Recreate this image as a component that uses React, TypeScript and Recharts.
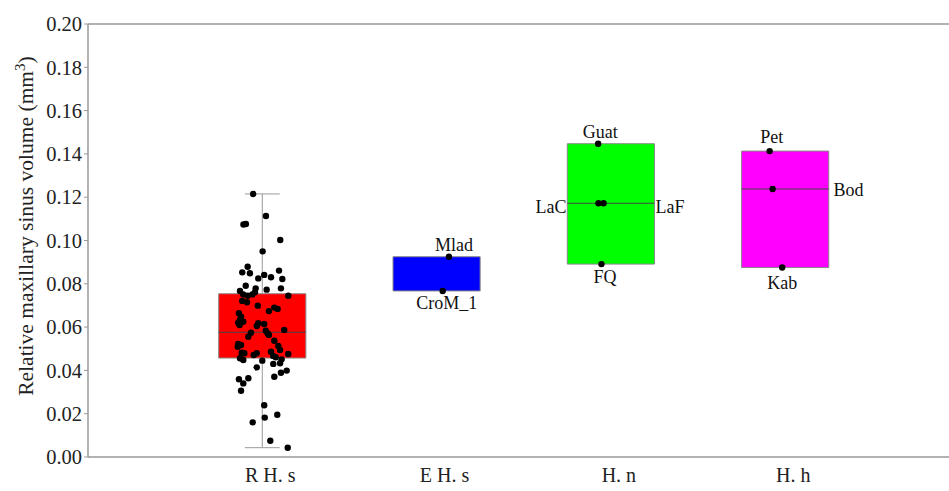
import React from 'react';
import { ComposedChart, Scatter, XAxis, YAxis, ReferenceArea, ReferenceLine } from 'recharts';

const categories = ['R H. s', 'E H. s', 'H. n', 'H. h'];
const categoryPositions = [1, 2, 3, 4];
const boxColors = ['#ff0000', '#0000ff', '#00ff00', '#ff00ff'];
const q1Values = [0.0457, 0.0767, 0.0891, 0.0875];
const medianValues: (number | null)[] = [0.0576, null, 0.1172, 0.1238];
const q3Values = [0.0754, 0.0925, 0.1447, 0.1413];
const whiskerLow: (number | null)[] = [0.0043, null, null, null];
const whiskerHigh: (number | null)[] = [0.1215, null, null, null];
const yTicks = [0, 0.02, 0.04, 0.06, 0.08, 0.1, 0.12, 0.14, 0.16, 0.18, 0.2];

const recentValues = [
  0.1215, 0.1113, 0.1074, 0.1076, 0.1002, 0.095, 0.0879, 0.0853, 0.0849, 0.0825,
  0.0841, 0.083, 0.0861, 0.0822, 0.0791, 0.0779, 0.0773, 0.0779, 0.0767, 0.0751,
  0.0745, 0.0751, 0.0761, 0.0745, 0.0721, 0.0715, 0.0699, 0.069, 0.0684, 0.0674,
  0.0664, 0.0648, 0.0633, 0.0625, 0.0618, 0.0614, 0.062, 0.061, 0.0605, 0.0583,
  0.0571, 0.0564, 0.0587, 0.0574, 0.0556, 0.0522, 0.0517, 0.0509, 0.0537, 0.0513,
  0.0494, 0.0482, 0.0479, 0.0471, 0.0479, 0.0486, 0.0467, 0.0461, 0.0476, 0.0456,
  0.0448, 0.0445, 0.043, 0.0433, 0.0451, 0.0414, 0.0399, 0.0389, 0.0371, 0.0359,
  0.0364, 0.034, 0.0306, 0.0239, 0.016, 0.0182, 0.0195, 0.0075, 0.0043,
];
const recentJitter = [
  -0.052, 0.021, -0.108, -0.094, 0.103, 0.002, -0.084, -0.115, -0.071, -0.023,
  0.011, 0.05, 0.096, 0.115, -0.095, -0.038, 0.025, 0.107, -0.128, -0.109,
  -0.084, -0.057, -0.042, 0.149, -0.115, -0.088, -0.026, 0.069, 0.088, 0.038,
  -0.134, -0.122, -0.128, -0.109, -0.023, 0.011, -0.138, -0.13, -0.032, 0.02,
  0.031, 0.038, 0.126, -0.065, -0.08, -0.138, -0.122, -0.141, 0.069, 0.092,
  0.102, -0.118, -0.103, -0.049, -0.032, 0.05, 0.063, 0.077, 0.149, -0.128,
  -0.109, 0, 0.063, 0.102, 0.111, -0.032, 0.14, 0.107, 0.069, -0.134,
  -0.08, -0.109, -0.122, 0.011, -0.055, 0.014, 0.086, 0.046, 0.146,
];

const fossilNames = ['Mlad', 'CroM_1', 'Guat', 'LaC', 'LaF', 'FQ', 'Pet', 'Bod', 'Kab'];
const fossilGroup = [2, 2, 3, 3, 3, 3, 4, 4, 4];
const fossilValues = [0.0925, 0.0767, 0.1447, 0.1172, 0.1172, 0.0891, 0.1413, 0.1238, 0.0875];
const fossilJitter = [0.071, 0.035, -0.073, -0.071, -0.042, -0.054, -0.089, -0.072, -0.017];

const labelPlacement: Record<string, { anchor: 'start' | 'middle' | 'end'; dx: number; dy: number }> = {
  Mlad: { anchor: 'middle', dx: 5, dy: -6 },
  CroM_1: { anchor: 'middle', dx: 4, dy: 18 },
  Guat: { anchor: 'middle', dx: 2, dy: -6 },
  LaC: { anchor: 'end', dx: -32, dy: 10 },
  LaF: { anchor: 'start', dx: 52, dy: 10 },
  FQ: { anchor: 'middle', dx: 3.5, dy: 19 },
  Pet: { anchor: 'middle', dx: 2, dy: -8 },
  Bod: { anchor: 'start', dx: 61, dy: 7 },
  Kab: { anchor: 'middle', dx: 0, dy: 21 },
};

const FONT = "'Liberation Serif', 'Times New Roman', serif";
const BOX_HALF = 0.25;
const CAP_HALF = 0.1;

const recentData = recentValues.map((v, i) => ({ x: categoryPositions[0] + recentJitter[i], y: v }));
const fossilData = fossilNames.map((n, i) => ({
  x: fossilGroup[i] + fossilJitter[i],
  y: fossilValues[i],
  name: n,
}));

const Dot = (props: any) => {
  const { cx, cy } = props;
  if (cx == null || cy == null) return null;
  return <circle cx={cx} cy={cy} r={3.2} fill="#000" />;
};

const LabeledDot = (props: any) => {
  const { cx, cy, payload } = props;
  if (cx == null || cy == null) return null;
  const p = labelPlacement[payload.name];
  return (
    <g>
      <circle cx={cx} cy={cy} r={3.2} fill="#000" />
      <text
        x={cx + p.dx}
        y={cy + p.dy}
        textAnchor={p.anchor}
        fontFamily={FONT}
        fontSize={18}
        fill="#111"
      >
        {payload.name}
      </text>
    </g>
  );
};

const XTick = (props: any) => {
  const { x, y, payload } = props;
  const idx = categoryPositions.indexOf(payload.value);
  return (
    <text x={x + 8} y={y} dy={17} textAnchor="middle" fontFamily={FONT} fontSize={20} fill="#222">
      {categories[idx]}
    </text>
  );
};

const YLabel = () => (
  <text
    x={33}
    y={226}
    transform="rotate(-90 33 226)"
    textAnchor="middle"
    fontFamily={FONT}
    fontSize={21.5}
    fill="#222"
  >
    Relative maxillary sinus volume (mm
    <tspan baselineShift="super" fontSize={15}>3</tspan>
    )
  </text>
);

export default function App() {
  return (
    <div style={{ position: 'absolute', left: 0, top: 0, width: 949, height: 491, background: '#fff' }}>
      <ComposedChart width={949} height={491} margin={{ top: 24, right: 0, bottom: 0, left: 0 }}>
        <XAxis
          type="number"
          dataKey="x"
          domain={[0, 4.94]}
          ticks={categoryPositions}
          tick={<XTick />}
          tickLine={false}
          axisLine={{ stroke: '#999', strokeWidth: 1.5 }}
          height={34}
          allowDataOverflow
        />
        <YAxis
          type="number"
          dataKey="y"
          domain={[0, 0.2]}
          ticks={yTicks}
          width={88}
          tickSize={4}
          tickLine={{ stroke: '#999' }}
          axisLine={{ stroke: '#999', strokeWidth: 1.5 }}
          tickFormatter={(v: number) => v.toFixed(2)}
          tick={{ fontFamily: FONT, fontSize: 20.5, fill: '#222' }}
          label={{ content: <YLabel /> }}
        />
        <ReferenceLine y={0.2} stroke="#999" strokeWidth={1.5} />
        {categoryPositions.map((c, i) =>
          whiskerLow[i] != null ? (
            <ReferenceLine
              key={`wl-${i}`}
              segment={[{ x: c, y: whiskerLow[i] as number }, { x: c, y: q1Values[i] }]}
              stroke="#999"
            />
          ) : null
        )}
        {categoryPositions.map((c, i) =>
          whiskerHigh[i] != null ? (
            <ReferenceLine
              key={`wh-${i}`}
              segment={[{ x: c, y: q3Values[i] }, { x: c, y: whiskerHigh[i] as number }]}
              stroke="#999"
            />
          ) : null
        )}
        {categoryPositions.map((c, i) =>
          whiskerLow[i] != null ? (
            <ReferenceLine
              key={`cl-${i}`}
              segment={[{ x: c - CAP_HALF, y: whiskerLow[i] as number }, { x: c + CAP_HALF, y: whiskerLow[i] as number }]}
              stroke="#999"
            />
          ) : null
        )}
        {categoryPositions.map((c, i) =>
          whiskerHigh[i] != null ? (
            <ReferenceLine
              key={`ch-${i}`}
              segment={[{ x: c - CAP_HALF, y: whiskerHigh[i] as number }, { x: c + CAP_HALF, y: whiskerHigh[i] as number }]}
              stroke="#999"
            />
          ) : null
        )}
        {categoryPositions.map((c, i) => (
          <ReferenceArea
            key={`box-${i}`}
            x1={c - BOX_HALF}
            x2={c + BOX_HALF}
            y1={q1Values[i]}
            y2={q3Values[i]}
            fill={boxColors[i]}
            fillOpacity={1}
            stroke="#888"
            strokeWidth={1}
          />
        ))}
        {categoryPositions.map((c, i) =>
          medianValues[i] != null ? (
            <ReferenceLine
              key={`med-${i}`}
              segment={[{ x: c - BOX_HALF, y: medianValues[i] as number }, { x: c + BOX_HALF, y: medianValues[i] as number }]}
              stroke="#444"
            />
          ) : null
        )}
        <Scatter data={recentData} shape={<Dot />} isAnimationActive={false} />
        <Scatter data={fossilData} shape={<LabeledDot />} isAnimationActive={false} />
      </ComposedChart>
    </div>
  );
}
